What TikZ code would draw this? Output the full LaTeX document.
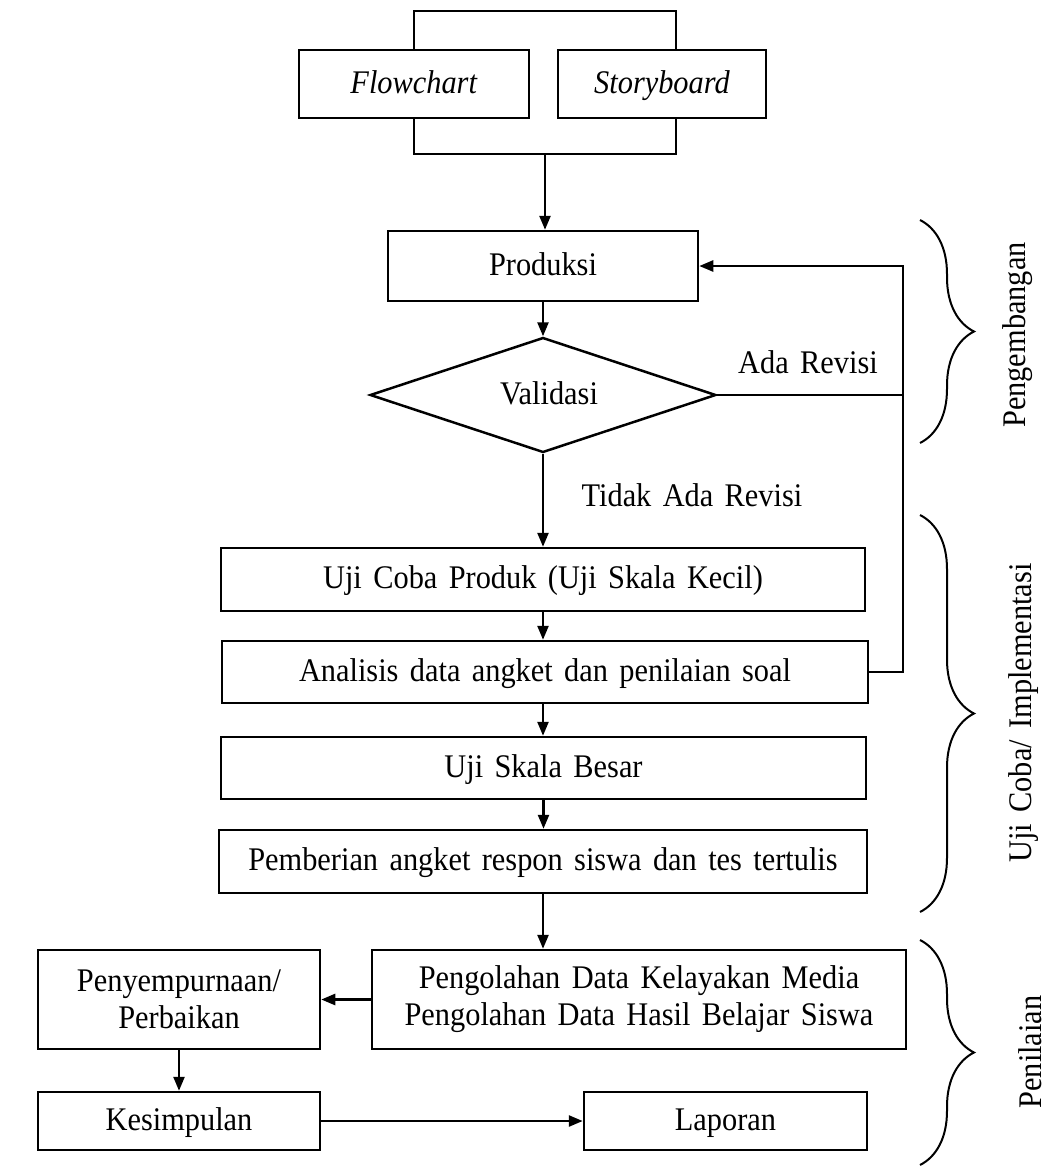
\documentclass[tikz,border=0pt]{standalone}
\usepackage{fontspec}
\setmainfont{Liberation Serif}[FakeStretch=0.92, WordSpace=1.5]
\usetikzlibrary{arrows.meta,shapes.geometric,decorations.pathreplacing}

\begin{document}
\begin{tikzpicture}[x=1pt, y=-1pt,
                font=\fontsize{33}{37}\selectfont,
                box/.style={draw, line width=2.5pt, inner sep=0pt, align=center},
                one/.style={text height=23pt, text depth=5pt},
                link/.style={line width=2.5pt},
                arr/.style={line width=2.5pt, -{Triangle[length=14pt, width=11pt]}},
                brc/.style={line width=2pt, decorate, decoration={brace, amplitude=54pt}}]
                \useasboundingbox (0,0) rectangle (1053,1171);
                \node[box, one, minimum width=230pt, minimum height=68pt] (flow) at (414,84) {\textit{Flowchart}};
                \node[box, one, minimum width=208pt, minimum height=68pt] (story) at (662,84) {\textit{Storyboard}};
                \node[box, one, minimum width=310pt, minimum height=70pt] (prod) at (543,266) {Produksi};
                \node[box, one, diamond, aspect=3, minimum width=346pt, minimum height=115pt] (val) at (543,395) {\hspace{12pt}Validasi};
                \node[box, one, minimum width=644pt, minimum height=63pt] (uji) at (543,579.5) {Uji Coba Produk (Uji Skala Kecil)};
                \node[box, one, minimum width=646pt, minimum height=62pt] (ana) at (545,672) {Analisis data angket dan penilaian soal};
                \node[box, one, minimum width=645pt, minimum height=62pt] (besar) at (543.5,768) {Uji Skala Besar};
                \node[box, one, minimum width=648pt, minimum height=63pt] (beri) at (543,861.5) {Pemberian angket respon siswa dan tes tertulis};
                \node[box, minimum width=534pt, minimum height=99pt] (olah) at (639,999.5) {Pengolahan Data Kelayakan Media\\Pengolahan Data Hasil Belajar Siswa};
                \node[box, minimum width=282pt, minimum height=99pt] (baik) at (179,999.5) {Penyempurnaan/\\Perbaikan};
                \node[box, one, minimum width=282pt, minimum height=58pt] (simpul) at (179,1121) {Kesimpulan};
                \node[box, one, minimum width=283pt, minimum height=58pt] (lapor) at (725.5,1121) {Laporan};
                \node (ada) at (808,362) {Ada Revisi};
                \node (tidak) at (692,495) {Tidak Ada Revisi};
                \coordinate (top_l) at (414,11);
                \coordinate (top_r) at (676,11);
                \coordinate (bot_l) at (414,154);
                \coordinate (bot_r) at (676,154);
                \coordinate (bot_m) at (545,154);
                \coordinate (back) at (903,266);
                \draw[link] (flow.north) -- (top_l) -- (top_r) -- (top_r |- story.north);
                \draw[link] (flow.south) -- (bot_l) -- (bot_r) -- (bot_r |- story.south);
                \draw[arr] (bot_m) -- (bot_m |- prod.north);
                \draw[arr] (prod.south) -- (val.north);
                \draw[arr] (ana.east) -| (back) -- (prod.east);
                \draw[link] (val.east) -- (val.east -| back);
                \draw[arr] (val.south) -- (uji.north);
                \draw[arr] (uji.south) -- (uji.south |- ana.north);
                \draw[arr] (ana.south -| uji.south) -- (uji.south |- besar.north);
                \draw[arr] (besar.south) -- (besar.south |- beri.north);
                \draw[arr] (beri.south) -- (beri.south |- olah.north);
                \draw[arr] (olah.west) -- (baik.east);
                \draw[arr] (baik.south) -- (simpul.north);
                \draw[arr] (simpul.east) -- (simpul.east -| lapor.west);
                \draw[brc] (920,220) -- (920,443);
                \draw[brc] (920,515) -- (920,912);
                \draw[brc] (920,940) -- (920,1165);
                \node[rotate=90] (kembang) at (1018,335) {Pengembangan};
                \node[rotate=90] (coba) at (1024,713) {Uji Coba/ Implementasi};
                \node[rotate=90] (nilai) at (1030,1052) {Penilaian};
            \end{tikzpicture}
\end{document}
